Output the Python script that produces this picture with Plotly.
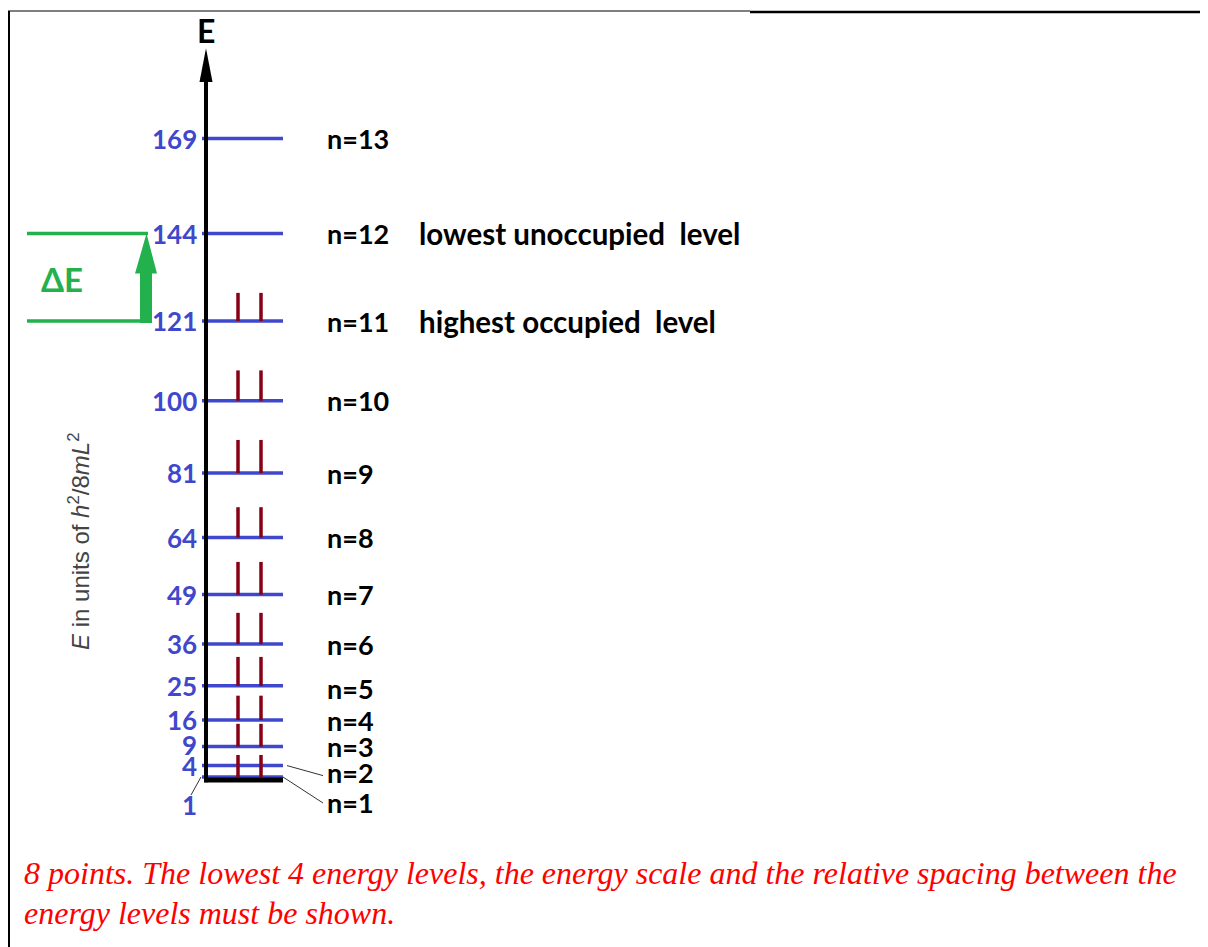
import plotly.graph_objects as go

# energy levels of a particle in a box, E = n^2 in units of h^2/8mL^2
LEVEL_N = [1, 2, 3, 4, 5, 6, 7, 8, 9, 10, 11, 12, 13]
LEVEL_E = [1, 4, 9, 16, 25, 36, 49, 64, 81, 100, 121, 144, 169]
TICK_TEXT = ["1", "4", "9", "16", "25", "36", "49", "64", "81", "100", "121", "144", "169"]
LEVEL_TEXT = ["n=1", "n=2", "n=3", "n=4", "n=5", "n=6", "n=7", "n=8", "n=9", "n=10", "n=11", "n=12", "n=13"]
# top end of the two electron marks drawn on each occupied level (n = 1..11)
ELECTRON_TOP = [4, 6.8, 15, 22.4, 32.6, 44.2, 57.6, 72, 89.7, 108, 128.4]
NOTES = {11: "highest occupied  level", 12: "lowest unoccupied  level"}
HOMO_E, LUMO_E = 121, 144

W, H = 1208, 947
OFF = 8  # the page body margin pushes the plot 8px right and down
FW, FH = W - OFF, H - OFF
PX_PER_E = 3.8
E_ZERO_PX = 780.8

BLUE = "#3F48CC"
RED = "#880015"
GREEN = "#22B14C"
BOLD = "Lato"

LEVEL_X0, LEVEL_X1 = 202, 283
AXIS_X = 206
ELECTRON_X = [238, 261]

# small pixel nudges for crowded labels near the bottom
TICK_SHIFT = {1: -28, 9: 2}
LABEL_SHIFT = {1: -25, 2: -7, 5: -3}


def py(p):
    return 1 - (p - OFF) / FH


fig = go.Figure()

# energy levels
lx, ly = [], []
for e in LEVEL_E:
    lx += [LEVEL_X0, LEVEL_X1, None]
    ly += [e, e, None]
fig.add_trace(go.Scatter(x=lx, y=ly, mode="lines", line=dict(color=BLUE, width=3.5), hoverinfo="skip"))

# electrons (two per occupied level)
ex, ey = [], []
for e, top in zip(LEVEL_E, ELECTRON_TOP):
    for x in ELECTRON_X:
        ex += [x, x, None]
        ey += [e, top, None]
fig.add_trace(go.Scatter(x=ex, y=ey, mode="lines", line=dict(color=RED, width=3.5), hoverinfo="skip"))

shapes = []
# energy axis and base line
shapes.append(dict(type="line", xref="x", yref="y", x0=AXIS_X, x1=AXIS_X, y0=-0.4, y1=185,
                   line=dict(color="black", width=4)))
shapes.append(dict(type="path", xref="x", yref="y", fillcolor="black", line=dict(width=0),
                   path=f"M {AXIS_X - 6.5},183.9 L {AXIS_X + 6.5},183.9 L {AXIS_X},192.8 Z"))
shapes.append(dict(type="line", xref="x", yref="y", x0=AXIS_X - 2, x1=LEVEL_X1, y0=0.2, y1=0.2,
                   line=dict(color="black", width=5)))

# delta E marker between HOMO and LUMO
shapes.append(dict(type="line", xref="x", yref="y", x0=27, x1=148, y0=LUMO_E, y1=LUMO_E,
                   line=dict(color=GREEN, width=3.5)))
shapes.append(dict(type="line", xref="x", yref="y", x0=27, x1=141, y0=HOMO_E, y1=HOMO_E,
                   line=dict(color=GREEN, width=3.5)))
head_base = LUMO_E - 10.5
shapes.append(dict(type="path", xref="x", yref="y", fillcolor=GREEN, line=dict(width=0),
                   path=(f"M 140,{HOMO_E - 0.5} L 152,{HOMO_E - 0.5} L 152,{head_base} L 157,{head_base} "
                         f"L 146.5,{LUMO_E} L 135,{head_base} L 140,{head_base} Z")))

# leader lines for the crowded bottom labels
for e, x0, y0, x1, y1 in [(4, 287, 0, 323, -10), (1, 283, 0, 323, -26), (1, 201, 0, 191, -18)]:
    shapes.append(dict(type="line", xref="x", yref="y", ysizemode="pixel", yanchor=e,
                       x0=x0, x1=x1, y0=y0, y1=y1, line=dict(color="#333333", width=1)))

# page frame
shapes.append(dict(type="line", xref="x", yref="paper", x0=9, x1=9, y0=py(11), y1=0,
                   line=dict(color="black", width=2)))
shapes.append(dict(type="line", xref="x", yref="paper", x0=8, x1=750, y0=py(11), y1=py(11),
                   line=dict(color="black", width=1.2)))
shapes.append(dict(type="line", xref="x", yref="paper", x0=750, x1=W, y0=py(12), y1=py(12),
                   line=dict(color="black", width=2.5)))

ann = []
for e, t in zip(LEVEL_E, TICK_TEXT):
    ann.append(dict(x=199, y=e, xref="x", yref="y", text=f"<b>{t}</b>", showarrow=False,
                    xanchor="right", yanchor="middle", yshift=TICK_SHIFT.get(e, 0),
                    font=dict(family=BOLD, size=26, color=BLUE)))
for n, e, t in zip(LEVEL_N, LEVEL_E, LEVEL_TEXT):
    ann.append(dict(x=325, y=e, xref="x", yref="y", text=f"<b>{t}</b>", showarrow=False,
                    xanchor="left", yanchor="middle", yshift=LABEL_SHIFT.get(n, 0),
                    font=dict(family=BOLD, size=27, color="black")))
    if n in NOTES:
        ann.append(dict(x=417, y=e, xref="x", yref="y", text=f"<b>{NOTES[n]}</b>", showarrow=False,
                        xanchor="left", yanchor="middle",
                        font=dict(family=BOLD, size=29.5, color="black")))

ann.append(dict(x=AXIS_X, y=py(30), xref="x", yref="paper", text="<b>E</b>", showarrow=False,
                yanchor="middle", font=dict(family=BOLD, size=32, color="black")))
ann.append(dict(x=62, y=132, xref="x", yref="y", text="<b>ΔE</b>", showarrow=False,
                yanchor="middle", font=dict(family=BOLD, size=33, color=GREEN)))
ann.append(dict(x=79, y=py(542), xref="x", yref="paper", textangle=-90, showarrow=False,
                yanchor="middle",
                text="<i>E</i> in units of <i>h</i><sup>2</sup>/8<i>mL</i><sup>2</sup>",
                font=dict(family="Liberation Sans", size=24, color="#444444")))
ann.append(dict(x=22, y=py(873), xref="x", yref="paper", xanchor="left", yanchor="middle", showarrow=False,
                text="<i>8 points. The lowest 4 energy levels, the energy scale and the relative spacing between the</i>",
                font=dict(family="Liberation Serif", size=32, color="#ff0000")))
ann.append(dict(x=22, y=py(913), xref="x", yref="paper", xanchor="left", yanchor="middle", showarrow=False,
                text="<i>energy levels must be shown.</i>",
                font=dict(family="Liberation Serif", size=32, color="#ff0000")))

fig.update_layout(
    width=FW,
    height=FH,
    margin=dict(l=0, r=0, t=0, b=0),
    paper_bgcolor="white",
    plot_bgcolor="white",
    showlegend=False,
    xaxis=dict(range=[OFF, W], visible=False, fixedrange=True),
    yaxis=dict(range=[(E_ZERO_PX - H) / PX_PER_E, (E_ZERO_PX - OFF) / PX_PER_E], visible=False,
               fixedrange=True),
    shapes=shapes,
    annotations=ann,
)

fig.write_html("out.html")
